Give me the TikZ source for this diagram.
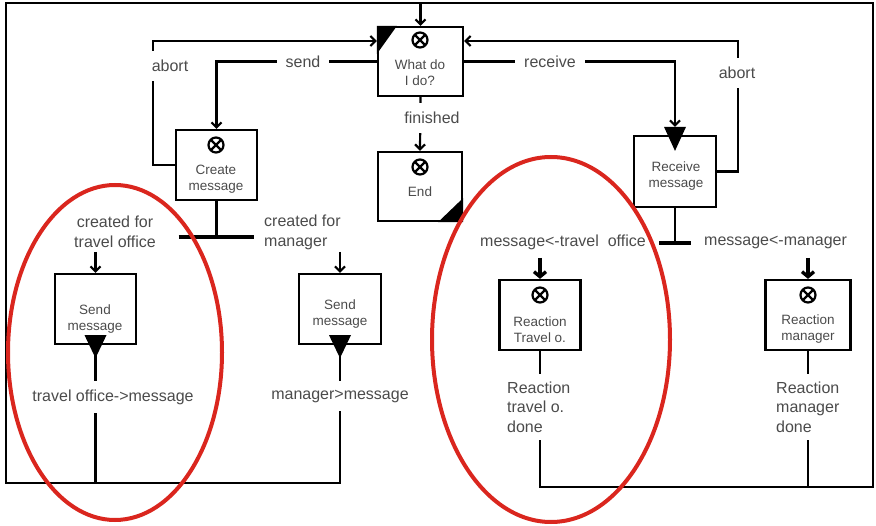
\documentclass[tikz,border=0pt]{standalone}
\usepackage{fontspec}
\setmainfont{Liberation Sans}
\usetikzlibrary{arrows.meta}
\definecolor{txtgray}{RGB}{75,75,75}
\definecolor{ringred}{RGB}{218,38,30}

\begin{document}
\begin{tikzpicture}[x=1pt,y=-1pt,
  box/.style={draw, line width=2.2pt, minimum width=81pt, minimum height=70pt, inner sep=0pt},
  boxtext/.style={align=center, text=txtgray, font=\fontsize{13.5}{16}\selectfont},
  note/.style={align=center, text=txtgray, inner sep=0pt, font=\fontsize{16}{20}\selectfont},
  lbl/.style={note, fill=white, inner xsep=9pt, inner ysep=9pt},
  xmark/.style={circle, draw, line width=2.2pt, minimum size=15pt, inner sep=0pt,
    path picture={\draw[line width=2.2pt] (path picture bounding box.north west) -- (path picture bounding box.south east)
      (path picture bounding box.south west) -- (path picture bounding box.north east);}},
  flow/.style={line width=2.2pt},
  arr/.style={flow, -{Straight Barb[length=5pt,width=10pt]}},
  thickarr/.style={line width=3.4pt, -{Straight Barb[length=5pt,width=12pt]}},
  bar/.style={line width=4pt},
  ring/.style={draw=ringred, line width=4pt}]
\useasboundingbox (0,0) rectangle (876,526);

\node[box, minimum width=85pt, minimum height=69pt] (what) at (420.5,61.5) {};
\node[box, minimum width=84pt, minimum height=69pt] (fin) at (420,186.5) {};
\node[box] (create) at (216.5,165) {};
\node[box, minimum width=82pt, minimum height=71pt] (recv) at (675,171.5) {};
\node[box] (sendto) at (95.5,309) {};
\node[box, minimum width=82pt] (sendmg) at (340,309) {};
\node[box] (reactto) at (540,315) {};
\node[box, minimum width=85pt] (reactmg) at (808,315) {};

\node[boxtext] (what-t) at (420,73) {What do\\I do?};
\node[boxtext] (fin-t) at (420,192) {End};
\node[boxtext] (create-t) at (216,179) {Create\\message};
\node[boxtext] (recv-t) at (676,176) {Receive\\message};
\node[boxtext] (sendto-t) at (95,319) {Send\\message};
\node[boxtext] (sendmg-t) at (340,314) {Send\\message};
\node[boxtext] (reactto-t) at (540,329.5) {Reaction\\Travel o.};
\node[boxtext] (reactmg-t) at (808,329.5) {Reaction\\manager};

\node[xmark] (what-x) at (420,40) {};
\node[xmark] (fin-x) at (420,167) {};
\node[xmark] (create-x) at (216,145) {};
\node[xmark] (reactto-x) at (540,295) {};
\node[xmark] (reactmg-x) at (808,295) {};

\fill (what.north west) -- ++(20,0) -- ++(-20,28) -- cycle;
\fill (fin.south east) -- ++(0,-24) -- ++(-25,24) -- cycle;
\fill ([yshift=8pt]recv.north) ++(-11,0) -- ++(22,0) -- ++(-11,24) -- cycle;
\fill ([yshift=10pt]sendto.south) ++(-11,0) -- ++(22,0) -- ++(-11,23) -- cycle;
\fill ([yshift=10pt]sendmg.south) ++(-11,0) -- ++(22,0) -- ++(-11,23) -- cycle;

\coordinate (fbl) at (6,483);
\coordinate (fbr) at (873,487);
\coordinate (ftop) at (420,3);

\draw[arr] (what.west) -| (create.north);
\draw[arr] (what.east) -| ([yshift=8pt]recv.north);
\draw[arr] (create.west) -- ++(-22,0) |- ([yshift=20.5pt]what.west);
\draw[arr] (recv.east) -- ++(21,0) |- ([yshift=20.5pt]what.east);
\draw[arr] (what.south) -- (fin.north);

\draw[flow] (create.south) -- ++(0,36) coordinate (cbar);
\draw[bar] ([xshift=-38pt]cbar) -- ([xshift=37pt]cbar);
\draw[flow] (recv.south) -- ++(0,35) coordinate (rbar);
\draw[bar] ([xshift=-16pt]rbar) -- ([xshift=16pt]rbar);

\draw[arr] ([yshift=21pt]sendto.north) -- (sendto.north);
\draw[arr] ([yshift=21pt]sendmg.north) -- (sendmg.north);
\draw[thickarr] ([yshift=21pt]reactto.north) -- (reactto.north);
\draw[thickarr] ([yshift=21pt]reactmg.north) -- (reactmg.north);

\draw[arr] (sendmg.south) |- (fbl) |- (what.north |- ftop) -- (what.north);
\draw[flow] (sendto.south) -- (sendto.south |- fbl);
\draw[flow] (reactto.south) |- (fbr) |- (what.north |- ftop);
\draw[flow] (reactmg.south) -- (reactmg.south |- fbr);

\node[lbl] (send-l) at (303,62) {send};
\node[lbl] (recv-l) at (550,62) {receive};
\node[lbl] (abortl-l) at (170,66) {abort};
\node[lbl] (abortr-l) at (737,73) {abort};
\node[lbl] (fin-l) at (432,118) {finished};
\node[note] (cto-l) at (115,232) {created for\\travel office};
\node[note, anchor=west, align=left] (cmg-l) at (264,232) {created for\\manager};
\node[note, anchor=east] (rto-l) at (646,242) {message<-travel\ \ office};
\node[note, anchor=west] (rmg-l) at (704,242) {message<-manager};
\node[lbl] (tom-l) at (113,397) {travel office->message};
\node[lbl] (mgm-l) at (340,396) {manager>message};
\node[lbl, anchor=west, align=left, inner xsep=0pt, inner ysep=8pt, font=\fontsize{16}{19.5}\selectfont] (rtd-l) at (507,407) {Reaction\\travel o.\\done};
\node[lbl, anchor=west, align=left, inner xsep=0pt, inner ysep=8pt, font=\fontsize{16}{19.5}\selectfont] (rmd-l) at (776,407) {Reaction\\manager\\done};

\draw[ring] (115,352.5) ellipse [x radius=107pt, y radius=167.5pt];
\draw[ring] (551,339.5) ellipse [x radius=119pt, y radius=182.5pt];
\end{tikzpicture}
\end{document}
